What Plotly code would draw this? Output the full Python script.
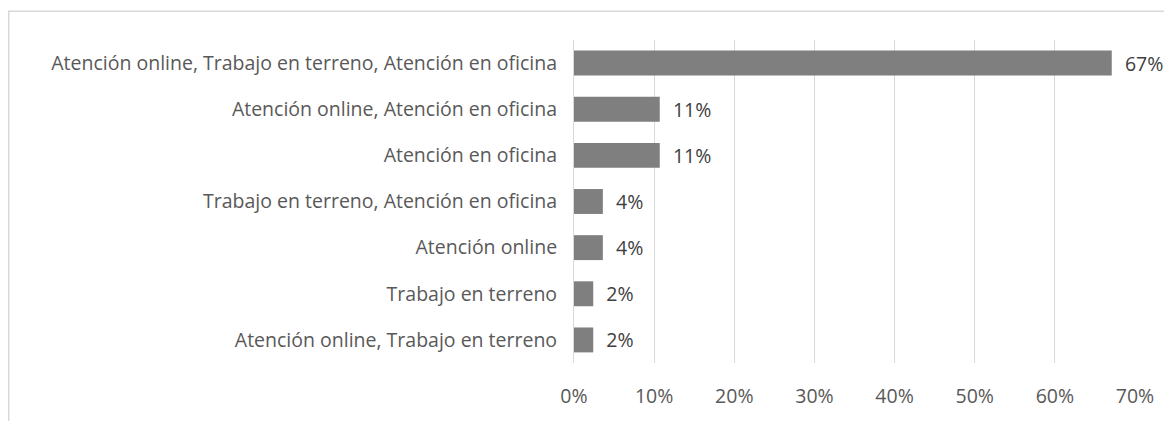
import plotly.graph_objects as go

categories = [
    "Atención online, Trabajo en terreno, Atención en oficina",
    "Atención online, Atención en oficina",
    "Atención en oficina",
    "Trabajo en terreno, Atención en oficina",
    "Atención online",
    "Trabajo en terreno",
    "Atención online, Trabajo en terreno",
]
values = [67.1, 10.7, 10.7, 3.6, 3.6, 2.4, 2.4]
tick_vals = [0, 10, 20, 30, 40, 50, 60, 70]
tick_text = ["0%", "10%", "20%", "30%", "40%", "50%", "60%", "70%"]

labels = ["  %d%%" % round(v) for v in values]

# page body has an 8px margin; figure coordinates are offset accordingly
OFF = 8
W, H = 1172 - OFF, 421 - OFF
L, R, T, B = 574 - OFF, 37, 40 - OFF, 54
pw, ph = W - L - R, H - T - B

def px_x(p):
    return (p - L) / pw

def px_y(p):
    return (H - B - p) / ph

FONT = "Open Sans"
FS = 19.5

fig = go.Figure(go.Bar(
    y=categories[::-1],
    x=values[::-1],
    orientation="h",
    marker=dict(color="#7f7f7f", line=dict(width=0)),
    text=labels[::-1],
    textposition="outside",
    constraintext="none",
    textfont=dict(color="#404040", size=FS, family=FONT),
    cliponaxis=False,
    width=0.54,
))

fig.update_layout(
    width=W, height=H,
    margin=dict(l=L, r=R, t=T, b=B),
    paper_bgcolor="white",
    plot_bgcolor="white",
    font=dict(family=FONT, color="#595959", size=FS),
    showlegend=False,
    xaxis=dict(
        range=[0, 70],
        tickvals=tick_vals,
        ticktext=tick_text,
        showgrid=True,
        gridcolor="#d9d9d9",
        gridwidth=1,
        zeroline=False,
        showline=False,
        ticks="",
        tickfont=dict(size=FS, color="#595959"),
        ticklabelstandoff=19,
    ),
    yaxis=dict(
        showgrid=False,
        showline=True,
        linecolor="#d9d9d9",
        linewidth=1,
        ticks="",
        tickfont=dict(size=FS, color="#595959"),
        ticklabelstandoff=12,
    ),
    shapes=[dict(
        type="rect", xref="paper", yref="paper",
        x0=px_x(0.75), x1=px_x(1185), y0=px_y(440), y1=px_y(3),
        line=dict(color="#d9d9d9", width=1.5),
        fillcolor="rgba(0,0,0,0)",
        layer="below",
    )],
)

fig.write_html("out.html")
